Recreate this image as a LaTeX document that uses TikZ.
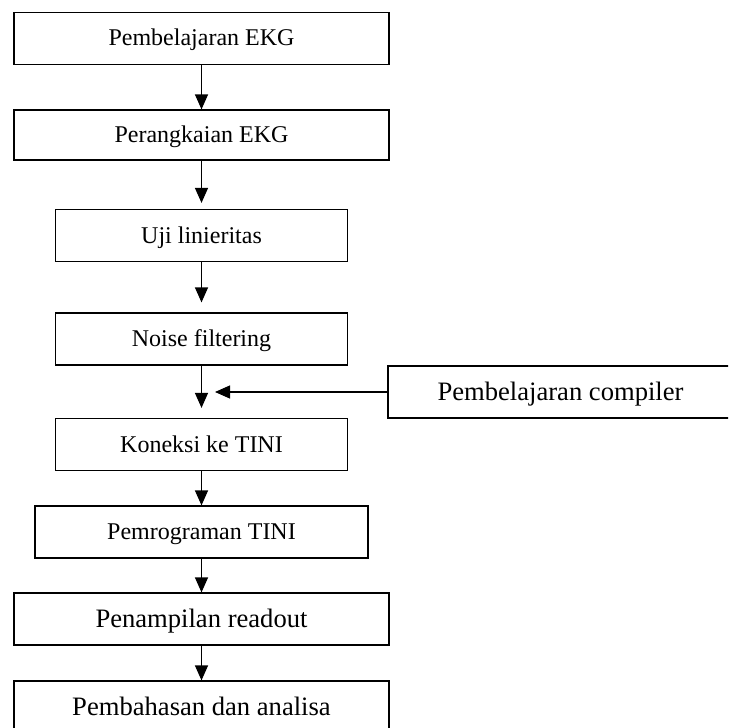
\documentclass[tikz,border=0pt]{standalone}
\usepackage{fontspec}
\setmainfont{Liberation Serif}
\usetikzlibrary{arrows.meta}
\tikzset{>={Triangle[width=6.5pt,length=7.5pt]}}

\begin{document}
\begin{tikzpicture}[x=0.5pt,y=-0.5pt,
  stepbox/.style={draw,line width=0.6pt,inner sep=0pt,minimum height=26pt,
    text height=7.5pt,text depth=0pt,font=\fontsize{12}{14}\selectfont},
  bigbox/.style={stepbox,text height=8.3pt,font=\fontsize{13.3}{16}\selectfont},
  link/.style={->,line width=0.6pt}]

  \clip (0,0) rectangle (728,728);

  %% main column
  \node[stepbox,minimum width=187.5pt] (belajar) at (201.5,38.5) {Pembelajaran EKG};
  \node[stepbox,minimum width=187.5pt,minimum height=25pt] (rangkai) at (201.5,135) {Perangkaian EKG};
  \node[stepbox,minimum width=146pt] (uji) at (201.5,235.5) {Uji linieritas};
  \node[stepbox,minimum width=146pt] (noise) at (201.5,339) {Noise filtering};
  \node[stepbox,minimum width=146pt] (koneksi) at (201.5,444.5) {Koneksi ke TINI};
  \node[stepbox,minimum width=166.5pt] (program) at (201.5,532) {Pemrograman TINI};
  \node[bigbox,minimum width=187.5pt] (tampil) at (201.5,619) {Penampilan readout};
  \node[bigbox,minimum width=187.5pt] (bahas) at (201.5,707) {Pembahasan dan analisa};

  %% side input
  \node[bigbox,minimum width=172.5pt] (compiler) at (560.5,392) {Pembelajaran compiler};
  \coordinate (masuk) at (215,392);

  \draw[link] (belajar) -- (rangkai); %% 1->2
  \draw[link,shorten >=3pt] (rangkai) -- (uji); %% 2->3
  \draw[link,shorten >=5pt] (uji) -- (noise); %% 3->4
  \draw[link,shorten >=5pt] (noise) -- (koneksi); %% 4->5
  \draw[link] (koneksi) -- (program); %% 5->6
  \draw[link] (program) -- (tampil); %% 6->7
  \draw[link] (tampil) -- (bahas); %% 7->8

  \draw[link] (compiler) -- (masuk); % compiler -> 4/5

\end{tikzpicture}
\end{document}
